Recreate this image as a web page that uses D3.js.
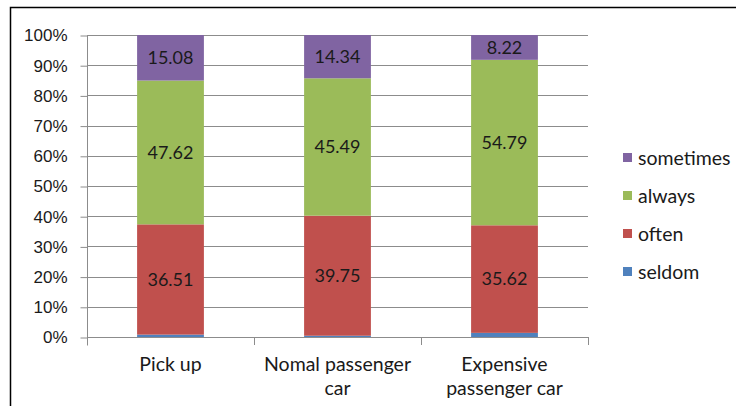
<!DOCTYPE html>
<html>
<head>
<meta charset="utf-8">
<script src="https://cdn.jsdelivr.net/npm/d3@7"></script>
<style>
  html, body { margin: 0; padding: 0; background: #fff; }
  svg { display: block; font-family: Lato, "Open Sans", sans-serif; }
</style>
</head>
<body>
<svg id="chart" width="736" height="406"></svg>
<script>
// Vehicle categories (each label may wrap onto two lines)
const categories = ["Pick up", "Nomal passenger car", "Expensive passenger car"];
const categoryLines = [["Pick up"], ["Nomal passenger", "car"], ["Expensive", "passenger car"]];

// Series, bottom to top in the stack
const seriesNames = ["seldom", "often", "always", "sometimes"];
const seldom    = [0.79, 0.42, 1.37];
const often     = [36.51, 39.75, 35.62];
const always    = [47.62, 45.49, 54.79];
const sometimes = [15.08, 14.34, 8.22];

const yTicks = [0, 10, 20, 30, 40, 50, 60, 70, 80, 90, 100];
const colors = { seldom: "#4F81BD", often: "#C0504D", always: "#9BBB59", sometimes: "#8064A2" };

const rows = categories.map((c, i) => ({
  category: c, seldom: seldom[i], often: often[i], always: always[i], sometimes: sometimes[i]
}));

const svg = d3.select("#chart");

// Outer chart frame (continues past the right and bottom edges)
svg.append("rect")
  .attr("x", 10.5).attr("y", 7.5)
  .attr("width", 740).attr("height", 420)
  .attr("fill", "#fff").attr("stroke", "#000").attr("stroke-width", 1.5);

const plot = { left: 87, right: 588, top: 35, bottom: 337 };

const x = d3.scaleBand().domain(categories)
  .range([plot.left, plot.right]).paddingInner(0.6).paddingOuter(0.3);
const band = d3.scaleBand().domain(categories).range([plot.left, plot.right]);
const y = d3.scaleLinear().domain([0, 100]).range([plot.bottom, plot.top]);

// Horizontal gridlines
svg.append("g").selectAll("line").data(yTicks.filter(t => t > 0)).join("line")
  .attr("x1", plot.left).attr("x2", plot.right)
  .attr("y1", d => Math.round(y(d)) + 0.5).attr("y2", d => Math.round(y(d)) + 0.5)
  .attr("stroke", "#8c8c8c").attr("stroke-width", 1);

// Y axis
const yAxis = svg.append("g")
  .attr("transform", `translate(${plot.left + 0.5},0.5)`)
  .call(d3.axisLeft(y).tickValues(yTicks).tickFormat(d => d + "%").tickSize(7).tickPadding(13));
yAxis.select(".domain").attr("stroke", "#8c8c8c").attr("d", `M0,${plot.top - 0.5}V${plot.bottom + 8}`);
yAxis.selectAll(".tick line").attr("stroke", "#8c8c8c");
yAxis.selectAll(".tick text").attr("fill", "#1a1a1a").attr("font-size", 17);

// X axis baseline with category boundary ticks
const xg = svg.append("g");
xg.append("line")
  .attr("x1", plot.left).attr("x2", plot.right)
  .attr("y1", plot.bottom + 0.5).attr("y2", plot.bottom + 0.5)
  .attr("stroke", "#8c8c8c");
const boundaries = categories.map(c => band(c)).concat([plot.right]);
xg.selectAll("line.bt").data(boundaries).join("line").attr("class", "bt")
  .attr("x1", d => Math.round(d) + 0.5).attr("x2", d => Math.round(d) + 0.5)
  .attr("y1", plot.bottom).attr("y2", plot.bottom + 8)
  .attr("stroke", "#8c8c8c");

// Category labels
const catText = xg.selectAll("text.cat").data(categories).join("text").attr("class", "cat")
  .attr("x", d => x(d) + x.bandwidth() / 2)
  .attr("y", 371)
  .attr("text-anchor", "middle").attr("font-size", 19.5).attr("fill", "#1a1a1a");
catText.each(function(d, i) {
  d3.select(this).selectAll("tspan").data(categoryLines[i]).join("tspan")
    .attr("x", x(d) + x.bandwidth() / 2)
    .attr("dy", (t, j) => j === 0 ? 0 : 24)
    .text(t => t);
});

// Stacked bars
const stack = d3.stack().keys(seriesNames)(rows);
const layers = svg.append("g").selectAll("g").data(stack).join("g")
  .attr("fill", d => colors[d.key]);
layers.selectAll("rect").data(d => d).join("rect")
  .attr("x", d => x(d.data.category))
  .attr("width", x.bandwidth())
  .attr("y", d => y(d[1]))
  .attr("height", d => y(d[0]) - y(d[1]));

// Value labels (not shown on the thin "seldom" slice)
const labelled = stack.filter(s => s.key !== "seldom");
svg.append("g").selectAll("g").data(labelled).join("g")
  .selectAll("text").data(d => d).join("text")
  .attr("x", d => x(d.data.category) + x.bandwidth() / 2)
  .attr("y", d => (y(d[0]) + y(d[1])) / 2)
  .attr("dy", "0.35em")
  .attr("text-anchor", "middle").attr("font-size", 18).attr("fill", "#1a1a1a")
  .text(d => (d[1] - d[0]).toFixed(2));

// Legend (top entry = top of stack)
const legendOrder = seriesNames.slice().reverse();
const lg = svg.append("g").selectAll("g").data(legendOrder).join("g")
  .attr("transform", (d, i) => `translate(623,${158 + i * 38})`);
lg.append("rect").attr("x", 0).attr("y", -5).attr("width", 9).attr("height", 9)
  .attr("fill", d => colors[d]);
lg.append("text").attr("x", 15).attr("y", 0).attr("dy", "0.35em")
  .attr("font-size", 19.5).attr("fill", "#1a1a1a").text(d => d);
</script>
</body>
</html>
